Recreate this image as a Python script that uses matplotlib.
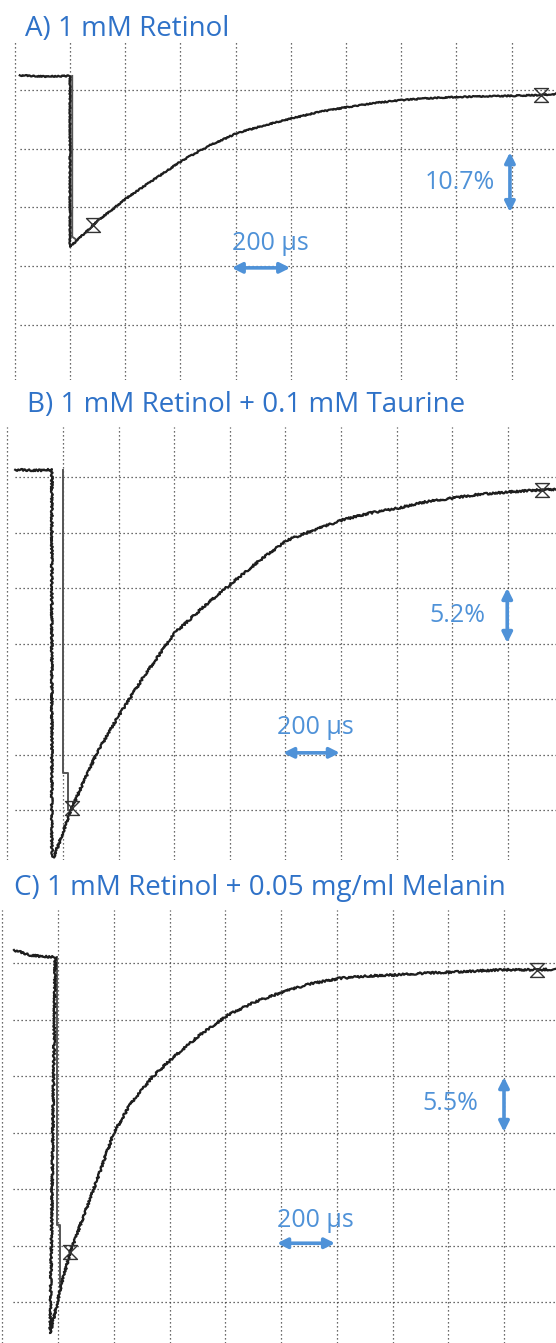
import matplotlib
matplotlib.use('Agg')
import matplotlib.pyplot as plt
import numpy as np
from matplotlib.path import Path

# Transient traces.
# x in horizontal divisions (1 div = 200 us), y in vertical divisions
titles = ['A) 1 mM Retinol',
          'B) 1 mM Retinol + 0.1 mM Taurine',
          'C) 1 mM Retinol + 0.05 mg/ml Melanin']
amplitude_labels = ['10.7%', '5.2%', '5.5%']
time_label = '200 µs'

trace_a_x = [-0.91, -0.45, 0.0, 0.0, 0.13, 0.42, 0.54, 1.03, 1.45, 2.05, 2.54, 3.04, 3.53,
             4.04, 4.53, 5.04, 5.53, 6.03, 6.52, 6.97, 7.48, 7.97, 8.53, 8.80]
trace_a_y = [0.25, 0.23, 0.24, -2.67, -2.56, -2.30, -2.20, -1.84, -1.57, -1.19, -0.94, -0.73, -0.60,
             -0.48, -0.37, -0.29, -0.22, -0.17, -0.14, -0.12, -0.11, -0.10, -0.085, -0.07]
ghost_a_x = [0.04, 0.04, 0.13]
ghost_a_y = [0.24, -2.50, -2.56]
marks_a_x = [0.42, 8.53]
marks_a_y = [-2.30, -0.085]

trace_b_x = [-0.86, -0.45, -0.20, -0.20, -0.16, 0.16, 0.61, 0.99, 1.47, 2.01, 2.55, 3.04, 3.54,
             4.03, 4.53, 5.04, 5.52, 6.03, 6.51, 7.01, 7.50, 8.02, 8.62, 8.87]
trace_b_y = [0.13, 0.12, 0.13, -6.84, -6.84, -5.96, -4.97, -4.32, -3.57, -2.81, -2.32, -1.91, -1.50,
             -1.14, -0.95, -0.77, -0.65, -0.56, -0.45, -0.38, -0.31, -0.27, -0.23, -0.22]
ghost_b_x = [0.0, 0.0, 0.09, 0.09]
ghost_b_y = [0.13, -5.33, -5.33, -6.0]
marks_b_x = [0.16, 8.62]
marks_b_y = [-5.96, -0.23]

trace_c_x = [-0.79, -0.50, -0.23, -0.05, -0.14, 0.07, 0.22, 0.70, 1.00, 1.29, 1.69, 2.01, 2.55,
             3.05, 3.53, 4.04, 4.52, 5.06, 5.56, 6.08, 6.58, 7.05, 7.53, 8.00, 8.59, 8.93]
trace_c_y = [0.23, 0.14, 0.11, 0.11, -6.55, -5.66, -5.12, -3.84, -3.01, -2.51, -2.02, -1.72, -1.27,
             -0.92, -0.69, -0.51, -0.37, -0.27, -0.23, -0.21, -0.18, -0.16, -0.14, -0.12, -0.12, -0.11]
ghost_c_x = [-0.02, -0.02, 0.04, 0.04]
ghost_c_y = [0.11, -4.64, -4.64, -5.73]
marks_c_x = [0.22, 8.59]
marks_c_y = [-5.12, -0.12]

W, H = 556, 1343
fig = plt.figure(figsize=(W / 100, H / 100), dpi=100)

TITLE_C = '#2f72c8'
ARROW_C = '#4f92d8'
TRACE_C = '#1e1e1e'
GRID_C = '#3a3a3a'

hourglass = Path([(-1, 1), (1, 1), (-1, -1), (1, -1), (-1, 1)],
                 [Path.MOVETO, Path.LINETO, Path.LINETO, Path.LINETO, Path.CLOSEPOLY])

# panel geometry in pixels: top, bottom, x of first grid line, x step, y of first grid line, y step,
# x where horizontal lines start, title position
panels = [
    dict(top=42, bottom=380, x0=70, dx=55.2, y0=90, dy=58.7, hstart=20, title_xy=(25, 29),
         tx=trace_a_x, ty=trace_a_y, gx=ghost_a_x, gy=ghost_a_y, mx=marks_a_x, my=marks_a_y,
         t_arrow=(2.93, 3.99, -3.03), t_text=(2.93, -2.62), a_arrow=(7.97, -1.06, -2.08), a_text=(7.70, -1.58),
         noise=0.6),
    dict(top=427, bottom=860, x0=63, dx=55.6, y0=477, dy=55.5, hstart=15, title_xy=(27, 405),
         tx=trace_b_x, ty=trace_b_y, gx=ghost_b_x, gy=ghost_b_y, mx=marks_b_x, my=marks_b_y,
         t_arrow=(3.96, 4.98, -4.97), t_text=(3.85, -4.52), a_arrow=(7.99, -2.0, -2.99), a_text=(7.60, -2.49),
         noise=1.0),
    dict(top=910, bottom=1343, x0=58, dx=55.75, y0=963, dy=56.5, hstart=13, title_xy=(14, 888),
         tx=trace_c_x, ty=trace_c_y, gx=ghost_c_x, gy=ghost_c_y, mx=marks_c_x, my=marks_c_y,
         t_arrow=(3.93, 4.97, -4.96), t_text=(3.93, -4.55), a_arrow=(8.0, -2.02, -2.99), a_text=(7.53, -2.48),
         noise=1.0),
]

for i, p in enumerate(panels):
    ax = fig.add_axes([0, 1 - p['bottom'] / H, 1, (p['bottom'] - p['top']) / H])
    xmin, xmax = -p['x0'] / p['dx'], (W - p['x0']) / p['dx']
    ymin, ymax = (p['y0'] - p['bottom']) / p['dy'], (p['y0'] - p['top']) / p['dy']
    ax.set_xlim(xmin, xmax)
    ax.set_ylim(ymin, ymax)
    ax.axis('off')

    # dotted scope graticule
    xs = [k for k in range(-1, 10) if xmin < k < xmax]
    ys = [k for k in range(-8, 2) if ymin < k < ymax]
    ax.vlines(xs, ymin, ymax, colors=GRID_C, linestyles=(0, (1, 2.2)), linewidth=0.9)
    hx0 = (p['hstart'] - p['x0']) / p['dx']
    ax.hlines(ys, hx0, xmax, colors=GRID_C, linestyles=(0, (1, 2.2)), linewidth=0.9)

    # trace
    ax.plot(p['gx'], p['gy'], color='#555555', lw=1.4)
    line, = ax.plot(p['tx'], p['ty'], color=TRACE_C, lw=1.6)
    line.set_sketch_params(scale=p['noise'], length=3, randomness=3)
    ax.plot(p['mx'], p['my'], ls='none', marker=hourglass, markersize=10,
            markerfacecolor='none', markeredgecolor='#333333', markeredgewidth=1.0)

    # time scale arrow
    x1, x2, yt = p['t_arrow']
    ax.annotate('', xy=(x1, yt), xytext=(x2, yt),
                arrowprops=dict(arrowstyle='<|-|>', color=ARROW_C, lw=2.6, mutation_scale=15,
                                shrinkA=0, shrinkB=0))
    ax.text(p['t_text'][0], p['t_text'][1], time_label, color=ARROW_C, fontsize=18,
            family='Open Sans', ha='left', va='center')

    # amplitude arrow
    xa, ya1, ya2 = p['a_arrow']
    ax.annotate('', xy=(xa, ya1), xytext=(xa, ya2),
                arrowprops=dict(arrowstyle='<|-|>', color=ARROW_C, lw=2.6, mutation_scale=15,
                                shrinkA=0, shrinkB=0))
    ax.text(p['a_text'][0], p['a_text'][1], amplitude_labels[i], color=ARROW_C, fontsize=18,
            family='Open Sans', ha='right', va='center')

    tx, ty = p['title_xy']
    fig.text(tx / W, 1 - ty / H, titles[i], color=TITLE_C, fontsize=20,
             family='Open Sans', ha='left', va='center')

fig.savefig('out.png', dpi=100, facecolor='white')
